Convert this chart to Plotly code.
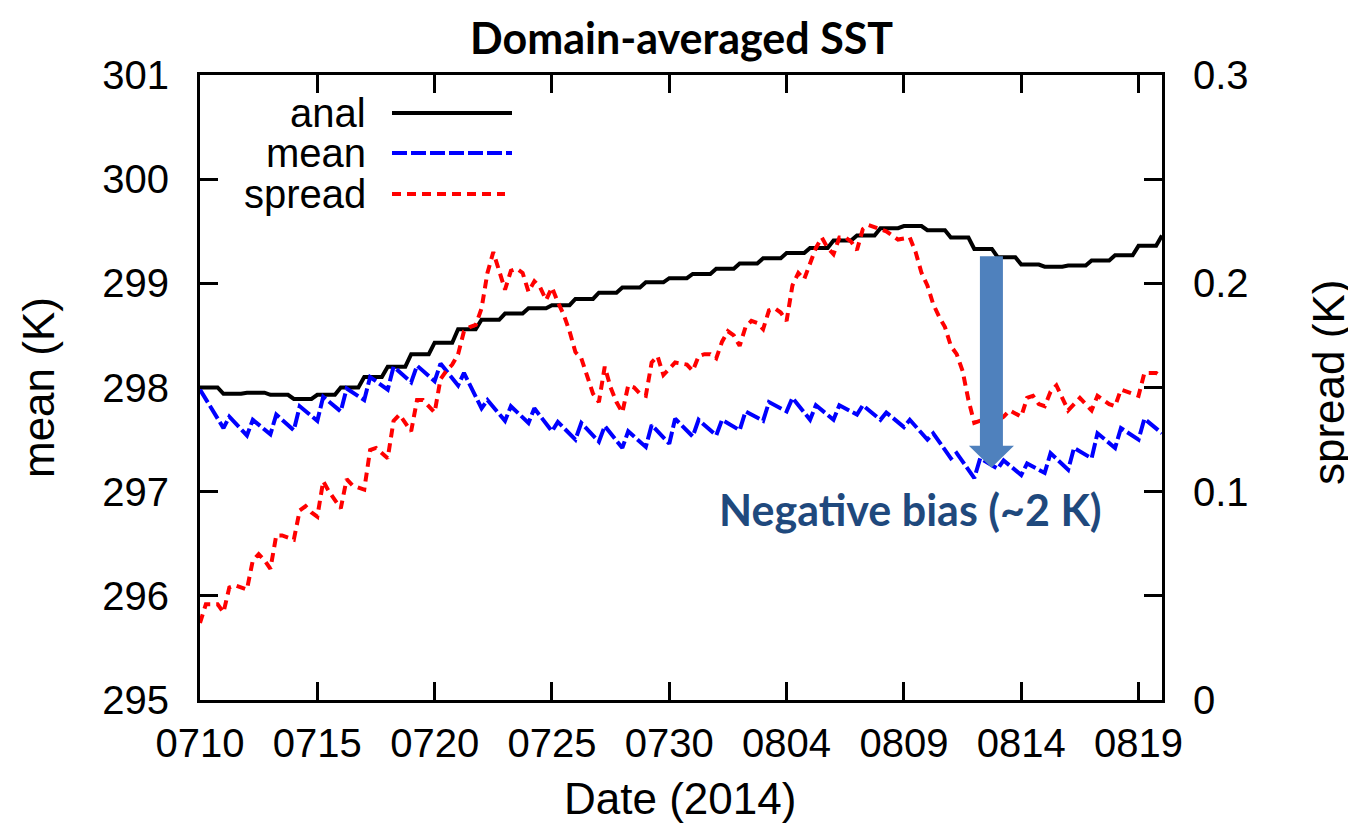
import plotly.graph_objects as go

# ---------------- data (days since 2014-07-10 00Z) ----------------
tick_days = [0, 5, 10, 15, 20, 25, 30, 35, 40]
tick_labels = ["0710", "0715", "0720", "0725", "0730", "0804", "0809", "0814", "0819"]

# analysis: one value per day (day 0 .. day 41)
anal_daily = [298.00, 297.94, 297.95, 297.93, 297.89, 297.93, 298.00, 298.10, 298.20, 298.32,
              298.43, 298.56, 298.65, 298.71, 298.76, 298.79, 298.85, 298.91, 298.96, 299.01,
              299.05, 299.09, 299.14, 299.19, 299.24, 299.29, 299.34, 299.41, 299.46, 299.53,
              299.55, 299.51, 299.44, 299.33, 299.25, 299.18, 299.16, 299.17, 299.22, 299.27,
              299.36, 299.46]

# ensemble mean: initial value, daily minima (00Z of day 1..41), daily maxima (06Z of day 1..40)
mean_start = 297.98
mean_trough = [297.61, 297.54, 297.55, 297.59, 297.68, 297.77, 297.88, 297.98, 298.05, 298.06,
               298.02, 297.80, 297.68, 297.66, 297.58, 297.50, 297.48, 297.42, 297.43, 297.46,
               297.53, 297.54, 297.59, 297.68, 297.77, 297.69, 297.69, 297.74, 297.69, 297.62,
               297.50, 297.32, 297.13, 297.22, 297.16, 297.18, 297.21, 297.32, 297.42, 297.50,
               297.56]
mean_peak = [297.72, 297.69, 297.74, 297.82, 297.91, 297.99, 298.10, 298.20, 298.21, 298.23,
             298.14, 297.88, 297.82, 297.80, 297.67, 297.66, 297.63, 297.58, 297.64, 297.70,
             297.69, 297.69, 297.77, 297.86, 297.90, 297.83, 297.83, 297.83, 297.76, 297.69,
             297.56, 297.37, 297.32, 297.30, 297.27, 297.37, 297.42, 297.56, 297.61, 297.70]

# ensemble spread (right axis)
spread_day = [0, 0.25, 0.75, 1.0, 1.25, 1.5, 2.0, 2.25, 2.5, 2.75, 3.0, 3.25, 3.5,
              4.0, 4.25, 4.5, 4.75, 5.0, 5.25, 5.5, 6.0, 6.25, 6.5, 7.0, 7.25, 7.5,
              8.0, 8.25, 8.5, 9.0, 9.25, 9.5, 10.0, 10.25, 10.5, 10.75, 11.0, 11.25, 11.5, 11.75,
              12.0, 12.25, 12.5, 13.0, 13.25, 13.5, 13.75, 14.0, 14.25, 14.5, 14.75,
              15.0, 15.25, 15.5, 15.75, 16.0, 16.25, 16.5, 16.75, 17.0, 17.25, 17.5, 17.75,
              18.0, 18.25, 18.5, 18.75, 19.0, 19.25, 19.5, 19.75, 20.0, 20.25, 20.75,
              21.0, 21.25, 21.5, 21.75, 22.0, 22.25, 22.5, 22.75, 23.0, 23.25, 23.5, 23.75,
              24.0, 24.25, 24.5, 24.75, 25.0, 25.25, 25.5, 25.75, 26.0, 26.25, 26.5, 26.75,
              27.0, 27.25, 27.5, 27.75, 28.0, 28.25, 28.5, 28.75, 29.25, 29.75, 30.25, 30.5, 30.75,
              31.0, 31.25, 31.5, 31.75, 32.0, 32.25, 32.5, 32.75, 33.0, 33.25, 33.5,
              34.0, 34.25, 34.5, 35.0, 35.25, 35.5, 35.75, 36.0, 36.25, 36.5,
              37.0, 37.5, 38.0, 38.25, 38.75, 39.0, 39.25, 39.75, 40.0, 40.25, 40.75, 41.0]
spread_val = [0.037, 0.046, 0.046, 0.042, 0.054, 0.055, 0.053, 0.067, 0.070, 0.067, 0.063, 0.079, 0.079,
              0.077, 0.091, 0.093, 0.090, 0.088, 0.105, 0.100, 0.092, 0.106, 0.103, 0.101, 0.120, 0.121,
              0.116, 0.134, 0.137, 0.129, 0.144, 0.144, 0.138, 0.154, 0.158, 0.161, 0.166, 0.177, 0.179, 0.180,
              0.188, 0.205, 0.215, 0.197, 0.206, 0.207, 0.205, 0.196, 0.201, 0.198, 0.192,
              0.198, 0.191, 0.185, 0.177, 0.167, 0.164, 0.155, 0.147, 0.143, 0.160, 0.150, 0.143,
              0.138, 0.151, 0.150, 0.147, 0.146, 0.162, 0.165, 0.156, 0.159, 0.162, 0.161,
              0.158, 0.165, 0.166, 0.166, 0.164, 0.172, 0.177, 0.175, 0.170, 0.179, 0.182, 0.181,
              0.178, 0.187, 0.188, 0.186, 0.182, 0.199, 0.205, 0.202, 0.209, 0.217, 0.222, 0.217,
              0.214, 0.222, 0.222, 0.220, 0.216, 0.226, 0.228, 0.227, 0.225, 0.221, 0.222, 0.215, 0.205,
              0.199, 0.190, 0.184, 0.179, 0.170, 0.166, 0.158, 0.144, 0.133, 0.134, 0.135,
              0.134, 0.136, 0.139, 0.136, 0.145, 0.146, 0.142, 0.141, 0.148, 0.151,
              0.139, 0.145, 0.139, 0.146, 0.142, 0.141, 0.149, 0.147, 0.146, 0.157, 0.157, 0.155]

# ---------------- build series ----------------
anal_x, anal_y = [], []
for d, v in enumerate(anal_daily):
    anal_x.append(d)
    anal_y.append(v)
    if d < len(anal_daily) - 1:
        anal_x.append(d + 0.75)
        anal_y.append(v)

mean_x, mean_y = [0], [mean_start]
for i, v in enumerate(mean_trough):
    d = i + 1
    mean_x.append(d)
    mean_y.append(v)
    if i < len(mean_peak):
        mean_x.append(d + 0.25)
        mean_y.append(mean_peak[i])

FONT = "Liberation Sans, Arial, sans-serif"
TFONT = "Lato, Open Sans, sans-serif"
LW = 4

fig = go.Figure()
fig.add_trace(go.Scatter(x=anal_x, y=anal_y, mode="lines", name="anal",
                         line=dict(color="black", width=LW), showlegend=False))
fig.add_trace(go.Scatter(x=mean_x, y=mean_y, mode="lines", name="mean",
                         line=dict(color="#0000ff", width=LW, dash="15px,4px"), showlegend=False))
fig.add_trace(go.Scatter(x=spread_day, y=spread_val, mode="lines", name="spread", yaxis="y2",
                         line=dict(color="#ff0000", width=LW, dash="9px,6px"), showlegend=False))

# ---------------- layout geometry (screen pixels; page has an 8px body offset) ----------------
OFF = 8
L, R, T, B = 200, 1162, 75, 700          # desired plot area on screen
W, H = R - L, B - T
def px(x):
    return (x - L) / W
def py(y):
    return (B - y) / H

shapes = []
annotations = []
legend_rows = [("anal", "black", "solid", 113, 512),
               ("mean", "#0000ff", "15px,4px", 153, 512),
               ("spread", "#ff0000", "9px,6px", 194, 505)]
for name, col, dash, yy, xend in legend_rows:
    annotations.append(dict(x=px(368), y=py(yy), xref="paper", yref="paper", text=name,
                            showarrow=False, xanchor="right", yanchor="middle",
                            font=dict(family=FONT, size=40, color="black")))
    shapes.append(dict(type="line", xref="paper", yref="paper", x0=px(392), x1=px(xend),
                       y0=py(yy), y1=py(yy), line=dict(color=col, width=LW, dash=dash)))

# ---------------- arrow annotation ----------------
ax_c, shaft_hw, head_hw = 33.73, 0.49, 0.96
y_top, y_base, y_tip = 299.26, 297.44, 297.23
path = (f"M {ax_c - shaft_hw},{y_top} L {ax_c + shaft_hw},{y_top} L {ax_c + shaft_hw},{y_base} "
        f"L {ax_c + head_hw},{y_base} L {ax_c},{y_tip} L {ax_c - head_hw},{y_base} "
        f"L {ax_c - shaft_hw},{y_base} Z")
shapes.append(dict(type="path", xref="x", yref="y", path=path,
                   fillcolor="#4F81BD", line=dict(width=0), layer="above"))
annotations.append(dict(x=px(910), y=py(510), xref="paper", yref="paper",
                        text="<b>Negative bias (~2 K)</b>", showarrow=False,
                        xanchor="center", yanchor="middle",
                        font=dict(family=TFONT, size=43, color="#1F497D")))

# axis titles
annotations.append(dict(x=px(38), y=py(388), xref="paper", yref="paper", text="mean (K)",
                        textangle=-90, showarrow=False, xanchor="center", yanchor="middle",
                        font=dict(family=FONT, size=44, color="black")))
annotations.append(dict(x=px(1328), y=py(383), xref="paper", yref="paper", text="spread (K)",
                        textangle=-90, showarrow=False, xanchor="center", yanchor="middle",
                        font=dict(family=FONT, size=44, color="black")))
annotations.append(dict(x=px(680), y=py(798), xref="paper", yref="paper", text="Date (2014)",
                        showarrow=False, xanchor="center", yanchor="middle",
                        font=dict(family=FONT, size=44, color="black")))
# title
annotations.append(dict(x=px(681), y=py(37), xref="paper", yref="paper",
                        text="<b>Domain-averaged SST</b>", showarrow=False,
                        xanchor="center", yanchor="middle",
                        font=dict(family=TFONT, size=43, color="black")))

axis_common = dict(showline=True, linecolor="black", linewidth=3, ticks="inside",
                   ticklen=18, tickwidth=3, tickcolor="black", showgrid=False, zeroline=False,
                   tickfont=dict(family=FONT, size=40, color="black"))

FW, FH = 1356, 825
fig.update_layout(
    width=FW, height=FH,
    margin=dict(l=L - OFF, r=FW - (R - OFF), t=T - OFF, b=FH - (B - OFF), autoexpand=False),
    paper_bgcolor="white", plot_bgcolor="white",
    xaxis=dict(range=[0, 41], tickvals=tick_days, ticktext=tick_labels, mirror="ticks",
               ticklabelstandoff=6, **axis_common),
    yaxis=dict(range=[295, 301], tickvals=[295, 296, 297, 298, 299, 300, 301], mirror="ticks",
               ticklabelstandoff=20, **axis_common),
    yaxis2=dict(range=[0, 0.3], overlaying="y", side="right",
                tickvals=[0, 0.1, 0.2, 0.3], ticktext=["0", "0.1", "0.2", "0.3"],
                ticklabelstandoff=20, **axis_common),
    shapes=shapes, annotations=annotations,
)

fig.write_html("out.html")
